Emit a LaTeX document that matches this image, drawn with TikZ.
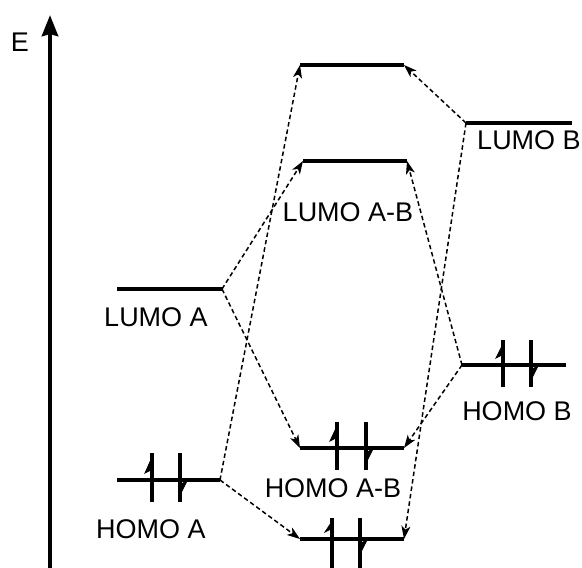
\documentclass[tikz,border=0pt]{standalone}
\usepackage{fontspec}
\setmainfont{Liberation Sans}
\usetikzlibrary{arrows.meta}
\begin{document}
\begin{tikzpicture}[x=1pt,y=-1pt,
  lvl/.style={line width=3.6pt},
  conn/.style={line width=1.5pt, dash pattern=on 4.5pt off 3pt,
    -{Stealth[length=13pt,width=9pt,inset=3.5pt]}},
  lab/.style={font=\fontsize{27}{30}\selectfont, inner sep=0pt, anchor=center},
  spin/.style={line width=3.6pt},
  barb/.style={fill=black, draw=black, line width=0.8pt},
]
\useasboundingbox (0,0) rectangle (582,568);

% energy axis
\coordinate (ax0) at (50,568);
\coordinate (ax1) at (50,15);
\draw[line width=4.5pt, -{Stealth[length=21pt,width=16pt,inset=2pt]}] (ax0) -- (ax1);
\node[lab] (E) at (20,42) {E};

% level end points
\coordinate (T-l) at (300,65);   \coordinate (T-r) at (404,65);
\coordinate (LAB-l) at (303,161); \coordinate (LAB-r) at (407,161);
\coordinate (LB-l) at (466,123); \coordinate (LB-r) at (572,123);
\coordinate (LA-l) at (117,289); \coordinate (LA-r) at (222,289);
\coordinate (HB-l) at (462,365); \coordinate (HB-r) at (566,365);
\coordinate (HAB-l) at (300,448); \coordinate (HAB-r) at (404,448);
\coordinate (HA-l) at (117,480); \coordinate (HA-r) at (220,480);
\coordinate (B-l) at (300,539); \coordinate (B-r) at (404,539);

% levels
\draw[lvl] (T-l) -- (T-r);
\draw[lvl] (LAB-l) -- (LAB-r);
\draw[lvl] (LB-l) -- (LB-r);
\draw[lvl] (LA-l) -- (LA-r);
\draw[lvl] (HB-l) -- (HB-r);
\draw[lvl] (HAB-l) -- (HAB-r);
\draw[lvl] (HA-l) -- (HA-r);
\draw[lvl] (B-l) -- (B-r);

% electron pairs: up (x,L,top,bottom), down
\foreach \xu/\xd/\L/\t/\b in {152/180/480/27/22, 337/366/448/26/22, 503/531/365/25/22, 332/360/539/21/30}{
  \draw[spin] (\xu,\L-\t) -- (\xu,\L+\b);
  \filldraw[barb] (\xu+1,\L-\t+2) -- (\xu-7,\L-7) -- (\xu+1,\L-11) -- cycle;
  \draw[spin] (\xd,\L-\t) -- (\xd,\L+\b);
  \filldraw[barb] (\xd-1,\L+17) -- (\xd+7,\L+1) -- (\xd-1,\L+5) -- cycle;
}

% labels
\node[lab] (lLB) at (529,140) {LUMO B};
\node[lab] (lLAB) at (348,212) {LUMO A-B};
\node[lab] (lLA) at (156,317) {LUMO A};
\node[lab] (lHB) at (517,411) {HOMO B};
\node[lab] (lHAB) at (333,488) {HOMO A-B};
\node[lab] (lHA) at (151,529) {HOMO A};

% correlation connectors
\draw[conn] (LB-l) -- (T-r);
\draw[conn] (LB-l) -- (B-r);
\draw[conn] (HB-l) -- (LAB-r);
\draw[conn] (HB-l) -- (HAB-r);
\draw[conn] (LA-r) -- (LAB-l);
\draw[conn] (LA-r) -- (HAB-l);
\draw[conn] (HA-r) -- (T-l);
\draw[conn] (HA-r) -- (B-l);
\end{tikzpicture}
\end{document}
